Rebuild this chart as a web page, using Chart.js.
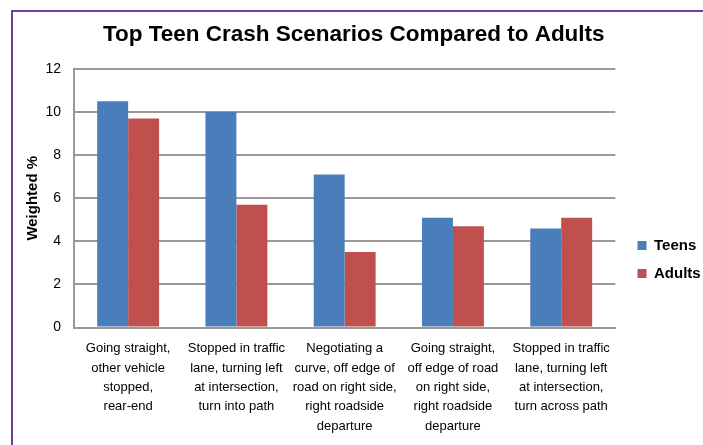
<!DOCTYPE html>
<html>
<head>
<meta charset="utf-8">
<script src="https://cdn.jsdelivr.net/npm/chart.js@4.4.1/dist/chart.umd.min.js"></script>
<style>
  html, body { margin: 0; padding: 0; background: #fff; }
  #wrap { position: relative; width: 703px; height: 445px; overflow: hidden; }
  #frame { position: absolute; left: 11px; top: 10px; right: -10px; bottom: -10px;
           border-left: 2px solid #6b3fa0; border-top: 2px solid #6b3fa0; pointer-events: none; }
  canvas { position: absolute; left: 0; top: 0; }
</style>
</head>
<body>
<div id="wrap">
  <canvas id="c" width="703" height="445"></canvas>
  <div id="frame"></div>
</div>
<script>
const chartTitle = "Top Teen Crash Scenarios Compared to Adults";
const yAxisTitle = "Weighted %";
const categories = [
  ["Going straight,", "other vehicle", "stopped,", "rear-end"],
  ["Stopped in traffic", "lane, turning left", "at intersection,", "turn into path"],
  ["Negotiating a", "curve, off edge of", "road on right side,", "right roadside", "departure"],
  ["Going straight,", "off edge of road", "on right side,", "right roadside", "departure"],
  ["Stopped in traffic", "lane, turning left", "at intersection,", "turn across path"]
];
const seriesNames = ["Teens", "Adults"];
const teens = [10.5, 10.0, 7.1, 5.1, 4.6];
const adults = [9.7, 5.7, 3.5, 4.7, 5.1];
const yMin = 0, yMax = 12, yStep = 2;

const FONT = "'Liberation Sans', Arial, Helvetica, sans-serif";
const GRID = "#999999";

const legendPlace = {
  id: 'legendPlace',
  afterLayout(chart) {
    const lg = chart.legend;
    if (!lg) return;
    const dx = 624.5 - lg.left;
    const dy = 225 - lg.top;
    lg.left += dx; lg.right += dx; lg.top += dy; lg.bottom += dy;
  }
};

new Chart(document.getElementById('c'), {
  type: 'bar',
  data: {
    labels: categories,
    datasets: [
      { label: seriesNames[0], data: teens, backgroundColor: '#4a7ebb', borderWidth: 0 },
      { label: seriesNames[1], data: adults, backgroundColor: '#c0504d', borderWidth: 0 }
    ]
  },
  options: {
    responsive: false,
    animation: false,
    layout: { padding: { left: 6, top: 0, right: 1.5, bottom: 0 } },
    datasets: { bar: { barPercentage: 1, categoryPercentage: 0.572 } },
    plugins: {
      title: {
        display: true, text: chartTitle, color: '#000',
        font: { family: FONT, size: 22.5, weight: 'bold', lineHeight: 1.2 },
        padding: { top: 21.5, bottom: 20.5 }
      },
      legend: {
        position: 'right', align: 'start',
        labels: {
          color: '#000', boxWidth: 9, boxHeight: 9, padding: 13,
          font: { family: FONT, size: 15, weight: 'bold' }
        }
      },
      tooltip: { enabled: false }
    },
    scales: {
      x: {
        grid: { display: false, drawTicks: false },
        border: { display: true, color: GRID, width: 2 },
        ticks: {
          color: '#000', autoSkip: false, maxRotation: 0, minRotation: 0, padding: 11.5,
          font: { family: FONT, size: 13, lineHeight: 19.4 / 13 }
        },
        afterFit(scale) { scale.height = 117.5; }
      },
      y: {
        min: yMin, max: yMax,
        grid: { color: GRID, lineWidth: 2, drawTicks: false },
        border: { display: true, color: GRID, width: 2 },
        ticks: {
          stepSize: yStep, color: '#000', padding: 13,
          font: { family: FONT, size: 14 }
        },
        title: {
          display: true, text: yAxisTitle, color: '#000',
          font: { family: FONT, size: 15, weight: 'bold', lineHeight: 1.2 },
          padding: { top: 18, bottom: 0 }
        },
        afterFit(scale) { scale.width = 68; }
      }
    }
  },
  plugins: [legendPlace]
});
</script>
</body>
</html>
